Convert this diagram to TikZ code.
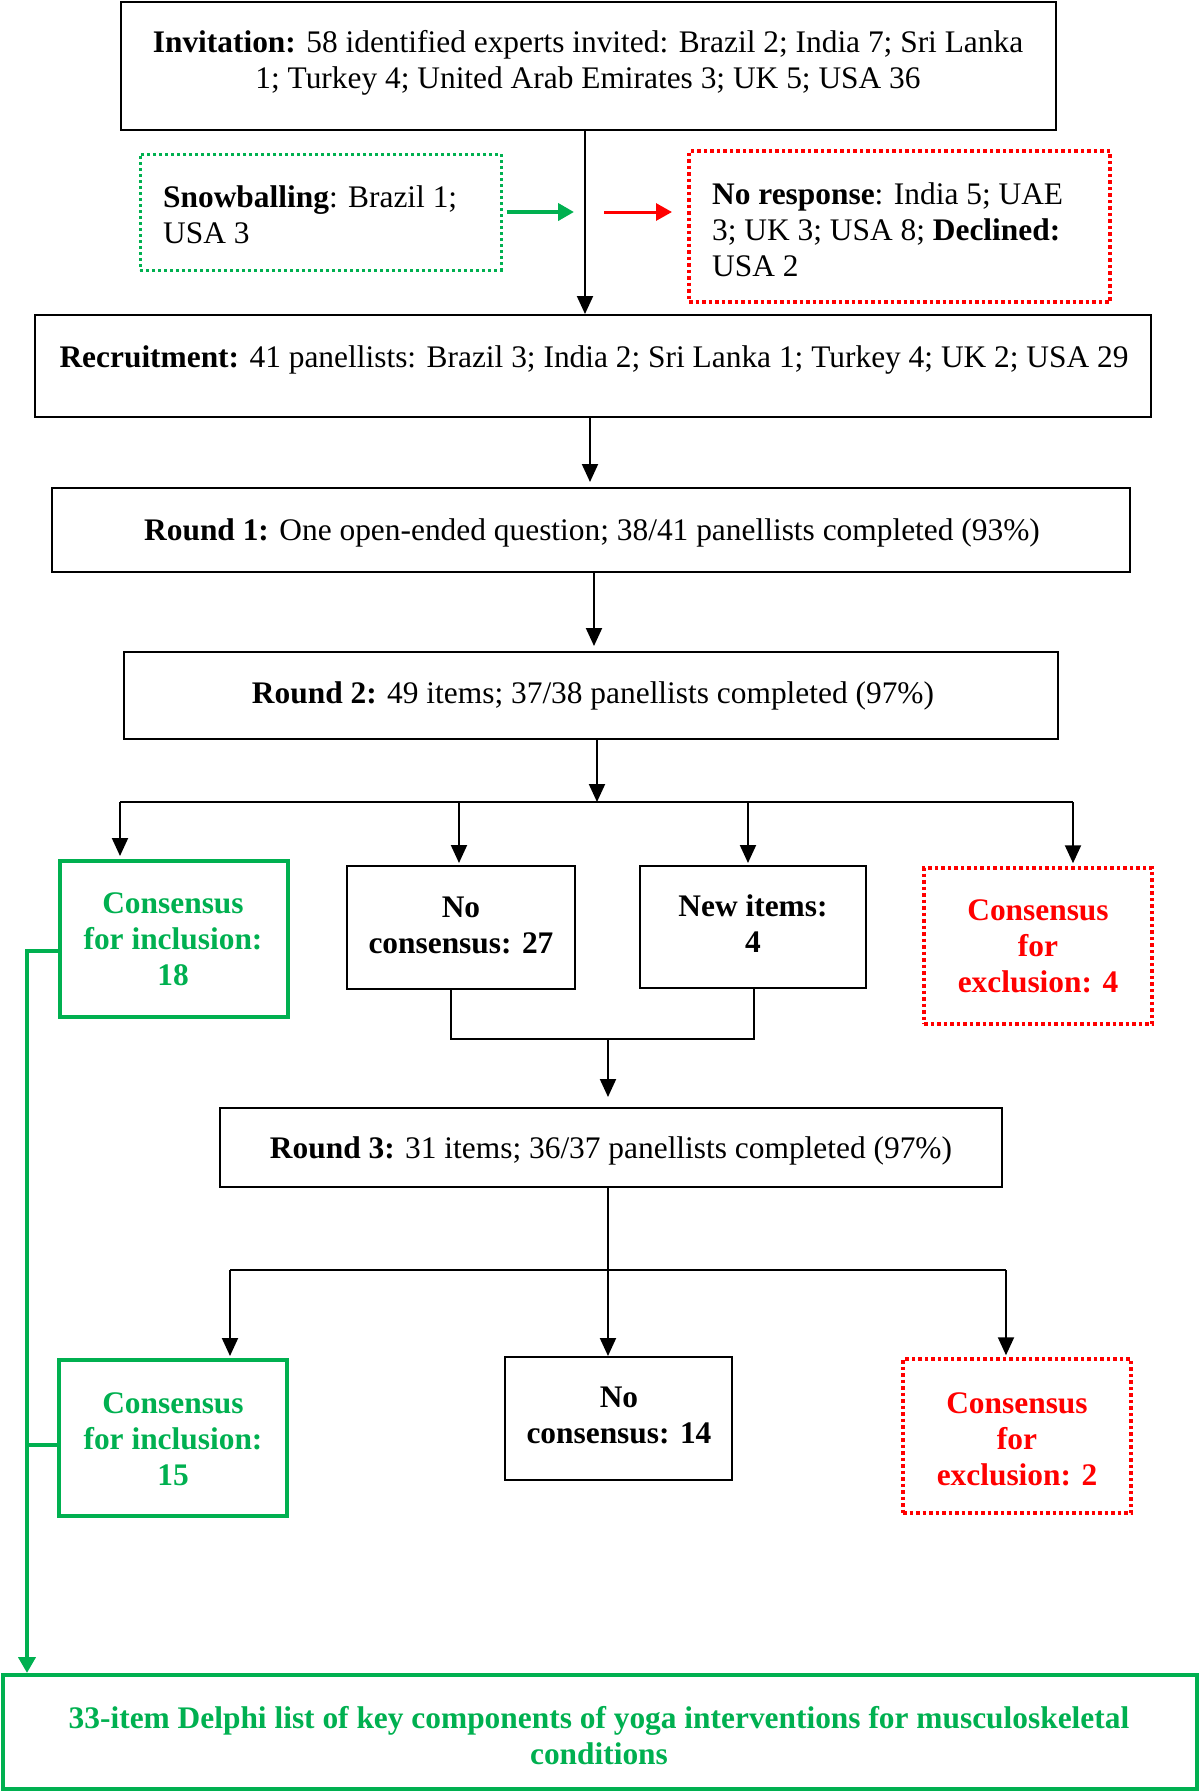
\documentclass[tikz,border=0pt]{standalone}
\usepackage{fontspec}
\setmainfont{Liberation Serif}
\usetikzlibrary{arrows.meta,calc}
\definecolor{dgreen}{RGB}{0,176,80}
\definecolor{dred}{RGB}{255,0,0}
\newcommand\mlc[1]{\vtop{\baselineskip=36pt\lineskiplimit=-100pt\halign{\hfil##\hfil\cr#1\crcr}}}
\newcommand\mll[1]{\vtop{\baselineskip=36pt\lineskiplimit=-100pt\halign{##\hfil\cr#1\crcr}}}
\newcommand\bx[6]{\node[#2, minimum width={#4-#3}, minimum height={#6-#5}] (#1) at ({(#3+#4)/2},{(#5+#6)/2}) {};}
\newcommand\fsz{\fontsize{31.4}{36}\selectfont}
\begin{document}
\begin{tikzpicture}[x=1pt,y=-1pt,
  bbox/.style={draw=black, line width=2pt, inner sep=0pt, rectangle},
  gbox/.style={draw=dgreen, line width=4pt, inner sep=0pt, rectangle},
  gdot/.style={draw=dgreen, line width=3pt, dash pattern=on 3pt off 3pt, inner sep=0pt, rectangle},
  rdot/.style={draw=dred, line width=3.5pt, dash pattern=on 3.5pt off 3pt, inner sep=0pt, rectangle},
  txt/.style={font=\fsz, inner sep=0pt, anchor=base},
  btxt/.style={txt, font=\fsz\bfseries},
  ltxt/.style={txt, anchor=base west},
  conn/.style={draw=black, line width=2pt},
  arr/.style={conn, -{Triangle[length=18pt,width=16pt]}},
  garr/.style={draw=dgreen, line width=4pt, -{Triangle[length=16pt,width=17pt]}},
  rarr/.style={draw=dred, line width=3pt, -{Triangle[length=16pt,width=17pt]}},
  gline/.style={draw=dgreen, line width=4pt}
]
\useasboundingbox (0,0) rectangle (1200,1792);

% boxes
\bx{inv}{bbox}{121}{1056}{2}{130}
\bx{snow}{gdot}{140}{501}{154}{270}
\bx{nores}{rdot}{689}{1110}{151}{302}
\bx{rec}{bbox}{35}{1151}{315}{417}
\bx{r1}{bbox}{52}{1130}{488}{572}
\bx{r2}{bbox}{124}{1058}{652}{739}
\bx{inc18}{gbox}{60}{288}{861}{1017}
\bx{noc27}{bbox}{347}{575}{866}{989}
\bx{new}{bbox}{640}{866}{866}{988}
\bx{exc4}{rdot}{924}{1152}{868}{1024}
\bx{r3}{bbox}{220}{1002}{1108}{1187}
\bx{inc15}{gbox}{59}{287}{1360}{1516}
\bx{noc14}{bbox}{505}{732}{1357}{1480}
\bx{exc2}{rdot}{903}{1131}{1359}{1513}
\bx{fin}{gbox}{3}{1197}{1675}{1789}

% texts
\node[txt] (inv-t) at (588,52) {\mlc{\textbf{Invitation:} 58 identified experts invited: Brazil 2; India 7; Sri Lanka\cr 1; Turkey 4; United Arab Emirates 3; UK 5; USA 36}};
\node[ltxt] (snow-t) at (163,207) {\mll{\textbf{Snowballing}: Brazil 1;\cr USA 3}};
\node[ltxt] (nores-t) at (712,204) {\mll{\textbf{No response}: India 5; UAE\cr 3; UK 3; USA 8; \textbf{Declined:}\cr USA 2}};
\node[txt] (rec-t) at (594,367) {\textbf{Recruitment:} 41 panellists: Brazil 3; India 2; Sri Lanka 1; Turkey 4; UK 2; USA 29};
\node[txt] (r1-t) at (592,540) {\textbf{Round 1:} One open-ended question; 38/41 panellists completed (93\%)};
\node[txt] (r2-t) at (593,703) {\textbf{Round 2:} 49 items; 37/38 panellists completed (97\%)};
\node[btxt, text=dgreen] (inc18-t) at (173,913) {\mlc{Consensus\cr for inclusion:\cr 18}};
\node[btxt] (noc27-t) at (461,917) {\mlc{No\cr consensus: 27}};
\node[btxt] (new-t) at (753,916) {\mlc{New items:\cr 4}};
\node[btxt, text=dred] (exc4-t) at (1038,920) {\mlc{Consensus\cr for\cr exclusion: 4}};
\node[txt] (r3-t) at (611,1158) {\textbf{Round 3:} 31 items; 36/37 panellists completed (97\%)};
\node[btxt, text=dgreen] (inc15-t) at (173,1413) {\mlc{Consensus\cr for inclusion:\cr 15}};
\node[btxt] (noc14-t) at (619,1407) {\mlc{No\cr consensus: 14}};
\node[btxt, text=dred] (exc2-t) at (1017,1413) {\mlc{Consensus\cr for\cr exclusion: 2}};
\node[btxt, text=dgreen] (fin-t) at (599,1728) {\mlc{33-item Delphi list of key components of yoga interventions for musculoskeletal\cr conditions}};

% coordinates
\coordinate (gt) at (574,212);
\coordinate (rs) at (604,212);
\coordinate (rt) at (672,212);
\coordinate (s1) at (597,802);
\coordinate (s1l) at (120,802);
\coordinate (s1r) at (1073,802);
\coordinate (d2) at (459,802);
\coordinate (d3) at (748,802);
\coordinate (m1) at (451,1039);
\coordinate (m2) at (754,1039);
\coordinate (m) at (608,1039);
\coordinate (s2) at (608,1270);
\coordinate (s2l) at (230,1270);
\coordinate (s2r) at (1006,1270);
\coordinate (gb1) at (27,951);
\coordinate (gb2) at (27,1445);

% connectors
\draw[arr] (585,0 |- inv.south) -- (585,0 |- rec.north);
\draw[garr] ($(snow.east)+(4,0)$) -- (gt);
\draw[rarr] (rs) -- (rt);
\draw[arr] (590,0 |- rec.south) -- ($(590,0 |- r1.north)+(0,-5)$);
\draw[arr] (594,0 |- r1.south) -- ($(594,0 |- r2.north)+(0,-5)$);
\draw[arr] (597,0 |- r2.south) -- (s1);
\draw[conn] (s1l) -- (s1r);
\draw[arr] (s1l) -- ($(s1l |- inc18.north)+(0,-3)$);
\draw[arr] (d2) -- ($(d2 |- noc27.north)+(0,-2)$);
\draw[arr] (d3) -- ($(d3 |- new.north)+(0,-2)$);
\draw[arr] (s1r) -- ($(s1r |- exc4.north)+(0,-3)$);
\draw[conn] (m1 |- noc27.south) -- (m1) -- (m2) -- (m2 |- new.south);
\draw[arr] (m) -- ($(m |- r3.north)+(0,-10)$);
\draw[conn] (s2 |- r3.south) -- (s2);
\draw[conn] (s2l) -- (s2r);
\draw[arr] (s2) -- (s2 |- noc14.north);
\draw[arr] (s2l) -- ($(s2l |- inc15.north)+(0,-2)$);
\draw[arr] (s2r) -- ($(s2r |- exc2.north)+(0,-2)$);
\draw[gline] (inc15.west |- gb2) -- (gb2);
\draw[garr] (inc18.west |- gb1) -- (gb1) -- (gb1 |- fin.north);
\end{tikzpicture}
\end{document}
